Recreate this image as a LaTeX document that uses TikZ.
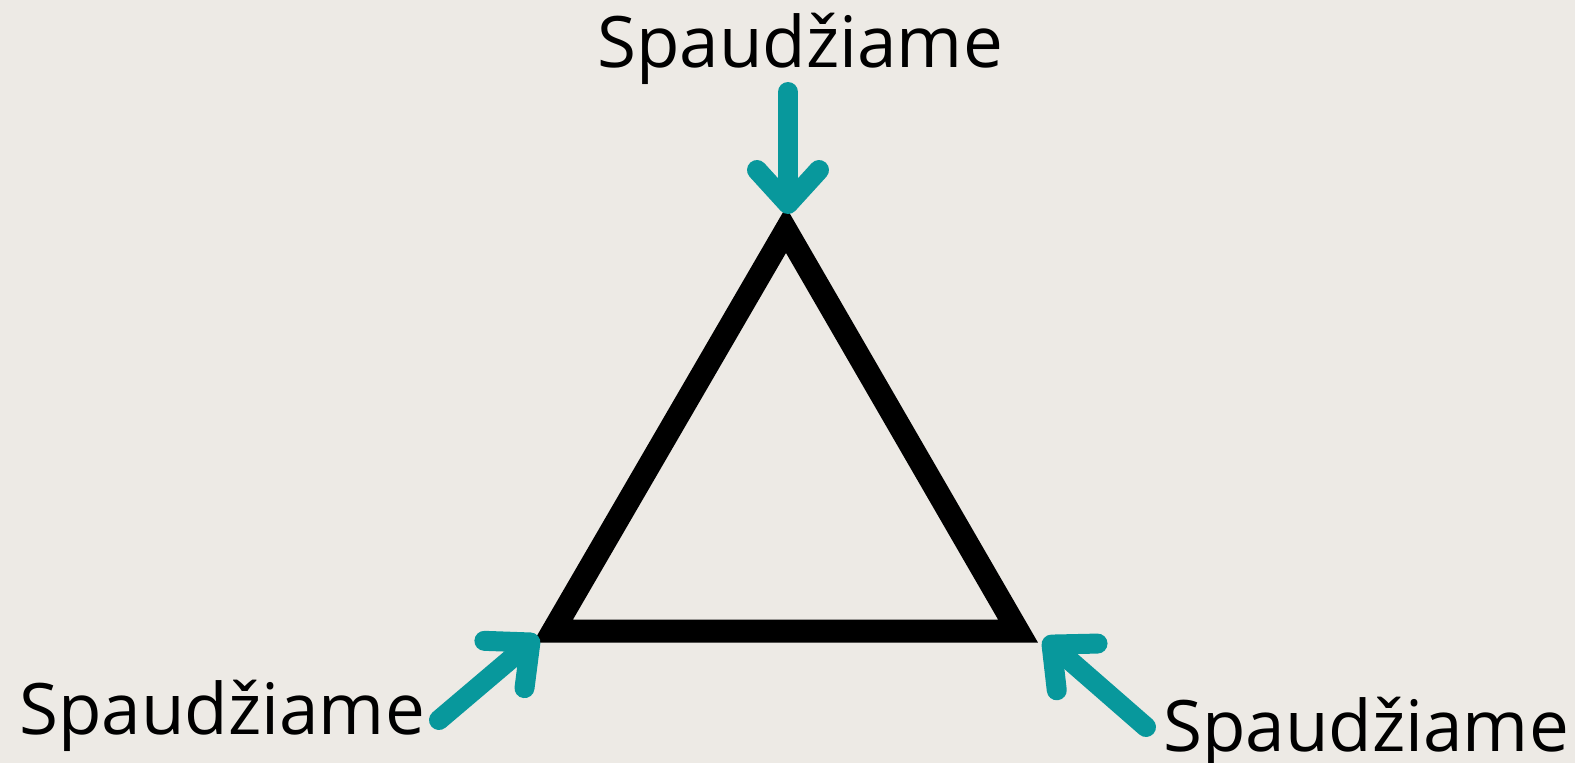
\documentclass[tikz,border=0pt]{standalone}
\usepackage{fontspec}
\setmainfont{Open Sans}
\usetikzlibrary{arrows.meta, positioning}
\usepackage{xcolor}
\definecolor{paper}{HTML}{EDEAE5}
\definecolor{pushteal}{HTML}{08989C}

\begin{document}
\begin{tikzpicture}[x=1pt, y=-1pt,
    push/.style={line width=20pt, line cap=round, color=pushteal,
      -{Straight Barb[length=34pt, width=62pt, round]}},
    pushtext/.style={font=\fontsize{71}{80}\selectfont, anchor=base, inner sep=0pt}]
  % background
  \useasboundingbox (0,0) rectangle (1575,763);
  \fill[paper] (0,0) rectangle (1575,763);

  % triangle
  \coordinate (apex) at (786,230);
  \coordinate (left) at (553,631);
  \coordinate (right) at (1018,631);
  \draw[line width=23pt] (apex) -- (left) -- (right) -- cycle;

  % pushing arrows
  \coordinate (topstart) at (788,92);
  \coordinate (toptip) at (788,214);
  \coordinate (leftstart) at (439,720);
  \coordinate (lefttip) at (538,636);
  \coordinate (rightstart) at (1146,727);
  \coordinate (righttip) at (1044,638);
  \draw[push] (topstart) -- (toptip);
  \draw[push] (leftstart) -- (lefttip);
  \draw[push] (rightstart) -- (righttip);

  % labels
  \node[pushtext] (toplabel) at (800,67) {Spaudžiame};
  \node[pushtext] (leftlabel) at (222,734) {Spaudžiame};
  \node[pushtext] (rightlabel) at (1366,751) {Spaudžiame};
\end{tikzpicture}
\end{document}
